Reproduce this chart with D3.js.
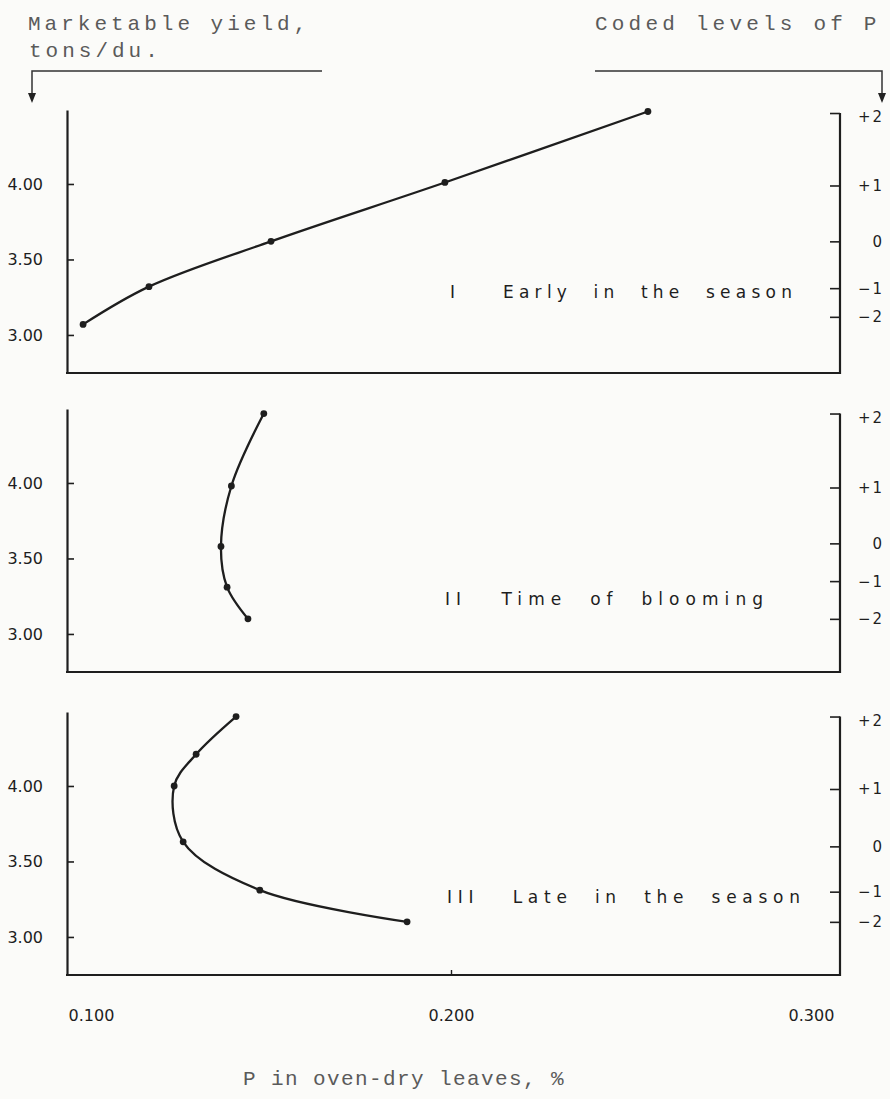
<!DOCTYPE html>
<html>
<head>
<meta charset="utf-8">
<script src="https://cdn.jsdelivr.net/npm/d3@7"></script>
<style>
body { margin: 0; background: #fbfbf9; }
svg { display: block; }
</style>
</head>
<body>
<svg id="chart" width="890" height="1099"></svg>
<script>
// P in leaves (%) and marketable yield (tons/du.)
var panelTitles = ["I    Early  in  the  season", "II   Time  of  blooming", "III   Late  in  the  season"];
var pEarly = [0.0978, 0.1161, 0.1500, 0.1983, 0.2547];
var yieldEarly = [3.07, 3.32, 3.62, 4.01, 4.48];
var pBloom = [0.1436, 0.1378, 0.1361, 0.1390, 0.1480];
var yieldBloom = [3.10, 3.31, 3.58, 3.98, 4.46];
var pLate = [0.1878, 0.1469, 0.1256, 0.1231, 0.1292, 0.1403];
var yieldLate = [3.10, 3.31, 3.63, 4.00, 4.21, 4.46];

// yields marked on the right axis for the coded P levels
var codedLabels = ["+2", "+1", "0", "\u22121", "\u22122"];
var codedEarly = [4.47, 3.99, 3.62, 3.31, 3.12];
var codedBloom = [4.46, 3.97, 3.60, 3.35, 3.10];
var codedLate = [4.46, 3.98, 3.60, 3.30, 3.10];

var yTicks = [3.00, 3.50, 4.00];
var xTicks = [0.100, 0.200, 0.300];
var xTickLabels = ["0.100", "0.200", "0.300"];

var panels = [
    {title: panelTitles[0], p: pEarly, y: yieldEarly, coded: codedEarly, top: 110, tx: 450, tlen: 342, tb: 298},
    {title: panelTitles[1], p: pBloom, y: yieldBloom, coded: codedBloom, top: 409, tx: 445, tlen: 318, tb: 605},
    {title: panelTitles[2], p: pLate, y: yieldLate, coded: codedLate, top: 712, tx: 447, tlen: 353, tb: 903}
];

var svg = d3.select("#chart");
var ink = "#1e1e1e";
var typeFont = "'Liberation Mono', 'DejaVu Sans Mono', monospace";
var sansFont = "'DejaVu Sans', 'Noto Sans', sans-serif";
var left = 67, right = 840, panelH = 263;

var xScale = d3.scaleLinear().domain([0.1, 0.3]).range([91, 811]);

panels.forEach(function(pn, i) {
    var bottom = pn.top + panelH;
    var yScale = d3.scaleLinear().domain([2.748, 4.49]).range([bottom, pn.top]);
    var g = svg.append("g");

    // left axis, ticks point inward
    var leftAxis = g.append("g")
        .attr("transform", "translate(" + left + ",0)")
        .call(d3.axisRight(yScale).tickValues(yTicks).tickSize(7).tickSizeOuter(0).tickFormat(""));
    leftAxis.select(".domain").attr("stroke", ink).attr("stroke-width", 2.2);
    leftAxis.selectAll(".tick line").attr("stroke", ink).attr("stroke-width", 1.6);

    g.append("g").selectAll("text").data(yTicks).enter()
        .append("text")
        .attr("x", left - 24)
        .attr("y", function(d) { return yScale(d); })
        .attr("dy", "0.36em")
        .attr("text-anchor", "end")
        .attr("font-family", sansFont)
        .attr("font-size", 16)
        .attr("fill", ink)
        .text(function(d) { return d3.format(".2f")(d); });

    // right axis with coded levels
    var rightAxis = g.append("g")
        .attr("transform", "translate(" + right + ",0)")
        .call(d3.axisLeft(yScale).tickValues(pn.coded).tickSize(10).tickSizeOuter(0).tickFormat(""));
    rightAxis.select(".domain").remove();
    rightAxis.selectAll(".tick line").attr("stroke", ink).attr("stroke-width", 1.6);
    g.append("line")
        .attr("x1", right).attr("x2", right)
        .attr("y1", yScale(pn.coded[0])).attr("y2", bottom + 1)
        .attr("stroke", ink).attr("stroke-width", 2.2);

    g.append("g").selectAll("text").data(pn.coded).enter()
        .append("text")
        .attr("x", right + 44)
        .attr("y", function(d, j) { return yScale(d) + (j === 0 ? 4 : 0); })
        .attr("dy", "0.36em")
        .attr("text-anchor", "end")
        .attr("font-family", sansFont)
        .attr("font-size", 15)
        .attr("letter-spacing", 2)
        .attr("fill", ink)
        .text(function(d, j) { return codedLabels[j]; });

    // bottom line
    g.append("line")
        .attr("x1", left - 1).attr("x2", right + 1)
        .attr("y1", bottom).attr("y2", bottom)
        .attr("stroke", ink).attr("stroke-width", 2.2);

    // curve and points
    var pts = pn.p.map(function(d, j) { return [d, pn.y[j]]; });
    var line = d3.line()
        .x(function(d) { return xScale(d[0]); })
        .y(function(d) { return yScale(d[1]); })
        .curve(d3.curveCatmullRom.alpha(0.5));
    g.append("path")
        .datum(pts)
        .attr("d", line)
        .attr("fill", "none")
        .attr("stroke", ink)
        .attr("stroke-width", 2.3);
    g.selectAll("circle").data(pts).enter()
        .append("circle")
        .attr("cx", function(d) { return xScale(d[0]); })
        .attr("cy", function(d) { return yScale(d[1]); })
        .attr("r", 3.4)
        .attr("fill", ink);

    g.append("text")
        .attr("x", pn.tx)
        .attr("y", pn.tb)
        .attr("font-family", sansFont)
        .attr("font-size", 17)
        .attr("fill", ink)
        .attr("textLength", pn.tlen)
        .attr("lengthAdjust", "spacing")
        .style("white-space", "pre")
        .text(pn.title);

    // x axis only on the last panel
    if (i === panels.length - 1) {
        var xTickG = g.append("g")
            .attr("transform", "translate(0," + bottom + ")")
            .call(d3.axisBottom(xScale).tickValues([0.2]).tickSize(-5).tickFormat(""));
        xTickG.select(".domain").remove();
        xTickG.selectAll(".tick line").attr("stroke", ink).attr("stroke-width", 1.4);

        var xLab = g.append("g")
            .attr("transform", "translate(0," + bottom + ")")
            .call(d3.axisBottom(xScale).tickValues(xTicks).tickSize(0).tickPadding(35)
                .tickFormat(function(d, j) { return xTickLabels[j]; }));
        xLab.select(".domain").remove();
        xLab.selectAll("text")
            .attr("font-family", sansFont)
            .attr("font-size", 16)
            .attr("fill", ink);
    }
});

// header labels with arrows
var typeInk = "#5a5a5a";
svg.append("text").attr("x", 28).attr("y", 30).attr("letter-spacing", 4).text("Marketable yield,");
svg.append("text").attr("x", 29).attr("y", 57).attr("letter-spacing", 4).text("tons/du.");
svg.append("text").attr("x", 595).attr("y", 30).attr("letter-spacing", 4.2).text("Coded levels of P");
svg.append("text").attr("x", 243).attr("y", 1085).attr("letter-spacing", 1.4).text("P in oven-dry leaves, %");
svg.selectAll("text:not([font-family])")
    .attr("font-family", typeFont)
    .attr("font-size", 21)
    .attr("fill", typeInk);

svg.append("path")
    .attr("d", "M32,96 L32,71 L322,71")
    .attr("fill", "none").attr("stroke", "#333").attr("stroke-width", 1.5);
svg.append("path")
    .attr("d", "M595,71 L882,71 L882,96")
    .attr("fill", "none").attr("stroke", "#333").attr("stroke-width", 1.5);
svg.append("path").attr("d", "M28,93 L36,93 L32,103 Z").attr("fill", "#222");
svg.append("path").attr("d", "M878,93 L886,93 L882,103 Z").attr("fill", "#222");
</script>
</body>
</html>
